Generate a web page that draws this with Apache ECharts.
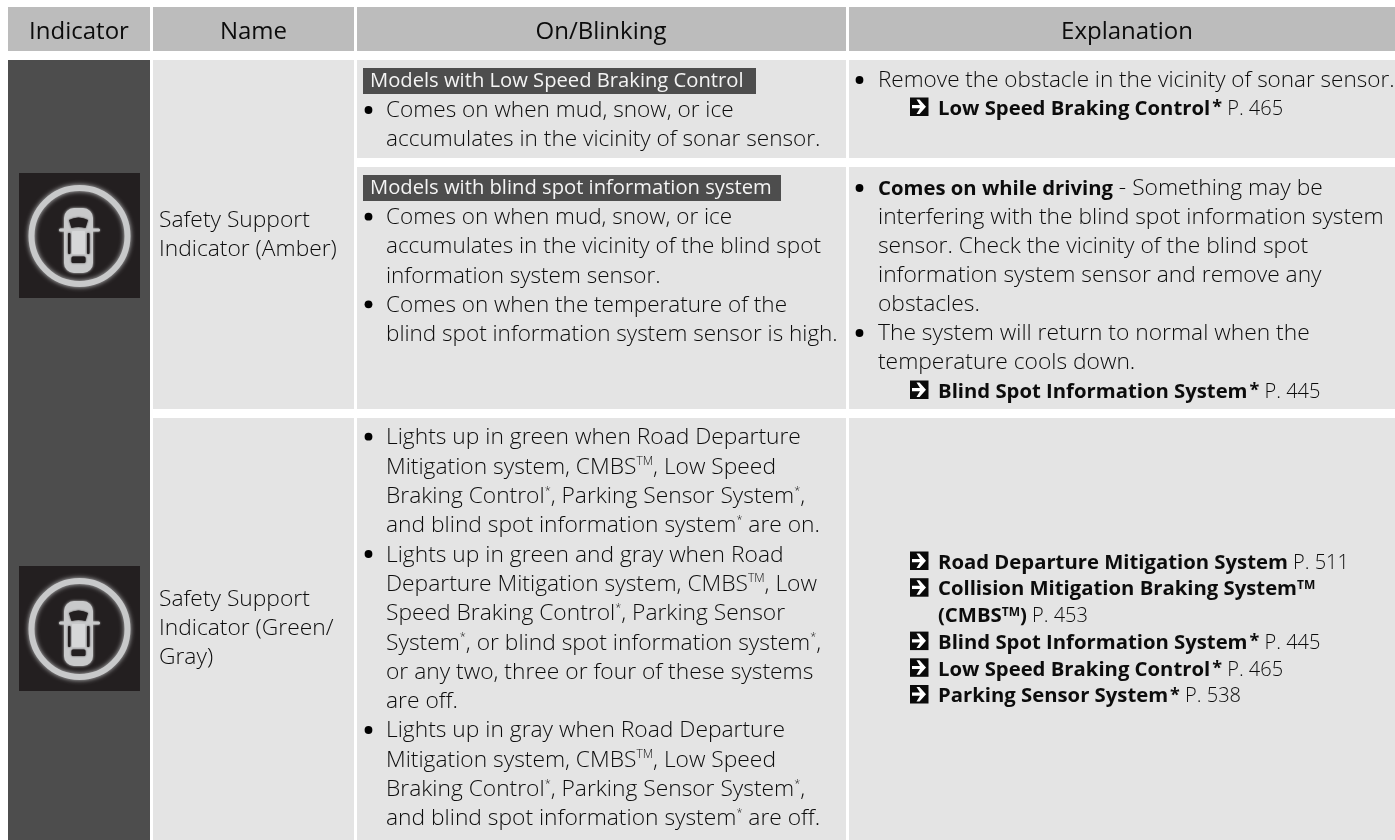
<!DOCTYPE html>
<html><head><meta charset="utf-8">
<style>html,body{margin:0;padding:0;background:#fff}#c{width:1395px;height:840px}</style>
<script src="https://cdn.jsdelivr.net/npm/echarts@6/dist/echarts.min.js"></script>
</head><body><div id="c"></div>
<script>
// ---- content ----
const columnHeaders = ['Indicator', 'Name', 'On/Blinking', 'Explanation'];
const amberName = ['Safety Support', 'Indicator (Amber)'];
const greenGrayName = ['Safety Support', 'Indicator (Green/', 'Gray)'];
const lowSpeedTag = 'Models with Low Speed Braking Control';
const blindSpotTag = 'Models with blind spot information system';
const lowSpeedOn = ['• Comes on when mud, snow, or ice', 'accumulates in the vicinity of sonar sensor.'];
const blindSpotOn = [
  '• Comes on when mud, snow, or ice',
  'accumulates in the vicinity of the blind spot',
  'information system sensor.',
  '• Comes on when the temperature of the',
  'blind spot information system sensor is high.'];
const greenGrayOn = [
  '• Lights up in green when Road Departure',
  'Mitigation system, CMBS{t|TM}, Low Speed',
  'Braking Control{s|*}, Parking Sensor System{s|*},',
  'and blind spot information system{s|*} are on.',
  '• Lights up in green and gray when Road',
  'Departure Mitigation system, CMBS{t|TM}, Low',
  'Speed Braking Control{s|*}, Parking Sensor',
  'System{s|*}, or blind spot information system{s|*},',
  'or any two, three or four of these systems',
  'are off.',
  '• Lights up in gray when Road Departure',
  'Mitigation system, CMBS{t|TM}, Low Speed',
  'Braking Control{s|*}, Parking Sensor System{s|*},',
  'and blind spot information system{s|*} are off.'];
const lowSpeedExplain = ['• Remove the obstacle in the vicinity of sonar sensor.'];
const lowSpeedRefs = ['> {b|Low Speed Braking Control}{bs|*} P. 465'];
const blindSpotExplain = [
  '• {b|Comes on while driving} - Something may be',
  'interfering with the blind spot information system',
  'sensor. Check the vicinity of the blind spot',
  'information system sensor and remove any',
  'obstacles.',
  '• The system will return to normal when the',
  'temperature cools down.'];
const blindSpotRefs = ['> {b|Blind Spot Information System}{bs|*} P. 445'];
const greenGrayRefs = [
  '> {b|Road Departure Mitigation System} P. 511',
  '> {b|Collision Mitigation Braking System}{bt|TM}',
  '{b|(CMBS}{bt|TM}{b|)} P. 453',
  '> {b|Blind Spot Information System}{bs|*} P. 445',
  '> {b|Low Speed Braking Control}{bs|*} P. 465',
  '> {b|Parking Sensor System}{bs|*} P. 538'];

// ---- layout (page pixels, mapped through hidden value axes) ----
const FONT = '"Open Sans"';
const SIZE = 22.8;
const colX = [[8,150],[153,354],[357,846],[849,1395]];
const headerCenter = [79, 253.5, 601, 1127];
const headerY = [7,51];
const C = {header:'#bcbcbc', dark:'#4d4d4d', light:'#e4e4e4', icon:'#231f20', ink:'#0c0c0c', ring:'#c8c9ca'};
const cells = [
  [...colX[0], ...headerY, C.header],[...colX[1], ...headerY, C.header],
  [...colX[2], ...headerY, C.header],[...colX[3], ...headerY, C.header],
  [...colX[0], 60, 840, C.dark],
  [...colX[1], 60, 409, C.light],[...colX[1], 418, 840, C.light],
  [...colX[2], 60, 158, C.light],[...colX[3], 60, 158, C.light],
  [...colX[2], 167, 409, C.light],[...colX[3], 167, 409, C.light],
  [...colX[2], 418, 840, C.light],[...colX[3], 418, 840, C.light],
  [363,756,68,94,C.dark],[363,781,175,201,C.dark]
];
const blocks = [
  {lines:amberName, x:159, y:220, lh:28.5},
  {lines:greenGrayName, x:159, y:599, lh:29},
  {lines:[lowSpeedTag], x:370, y:80, lh:29, color:'#f4f4f4', size:20.2, weight:400},
  {lines:[blindSpotTag], x:370, y:187, lh:29, color:'#f4f4f4', size:20.2, weight:400},
  {lines:lowSpeedOn, x:386, bx:368.5, y:110, lh:29, size:22.6},
  {lines:blindSpotOn, x:386, bx:368.5, y:216.7, lh:29.2, size:22.5},
  {lines:greenGrayOn, x:386, bx:368.5, y:436.7, lh:29.33},
  {lines:lowSpeedExplain, x:878, bx:859.5, y:80, lh:29, size:22.5},
  {lines:lowSpeedRefs, x:938, ax:910, y:108, lh:27, size:20},
  {lines:blindSpotExplain, x:878, bx:859.5, y:188, lh:29},
  {lines:blindSpotRefs, x:938, ax:910, y:391, lh:27, size:20},
  {lines:greenGrayRefs, x:938, ax:910, y:562, lh:26.7, size:20}
];
const icons = [[79.5,236],[79.5,629]];

const textData = [], bulletData = [], arrowData = [];
blocks.forEach((b, bi) => b.lines.forEach((raw, i) => {
  const y = b.y + i * b.lh;
  let t = raw;
  if (t.startsWith('• ')) { t = t.slice(2); bulletData.push([b.bx, y]); }
  if (t.startsWith('> ')) { t = t.slice(2); arrowData.push([b.ax, y]); }
  textData.push({value:[b.x, y], text:t, color:b.color || C.ink, size:b.size || SIZE, weight:b.weight || 300});
}));
columnHeaders.forEach((h,i)=>textData.push({value:[headerCenter[i], 31], text:h, color:'#0c0c0c', size:24, weight:400, center:true}));

const rich = {
  b:{fontFamily:FONT,fontSize:20.3,fontWeight:700,fill:C.ink,verticalAlign:'middle'},
  s:{fontFamily:FONT,fontSize:11,fontWeight:300,fill:C.ink,verticalAlign:'top'},
  t:{fontFamily:FONT,fontSize:12,fontWeight:300,fill:C.ink,verticalAlign:'top'},
  bs:{fontFamily:FONT,fontSize:18,fontWeight:700,fill:C.ink,verticalAlign:'top',padding:[0,0,0,2]},
  bt:{fontFamily:FONT,fontSize:12,fontWeight:700,fill:C.ink,verticalAlign:'top'}
};

const option = {
  animation:false,
  backgroundColor:'#ffffff',
  grid:{left:0,right:0,top:0,bottom:0},
  xAxis:{type:'value',min:0,max:1395,show:false},
  yAxis:{type:'value',min:0,max:840,inverse:true,show:false},
  series:[
    {type:'custom',silent:true,clip:true,z:1,data:cells.map((c,i)=>({value:c.slice(0,4),color:c[4]})),
     renderItem(p,api){
       const a=api.coord([api.value(0),api.value(2)]), b=api.coord([api.value(1),api.value(3)]);
       return {type:'rect',shape:{x:a[0],y:a[1],width:b[0]-a[0],height:b[1]-a[1]},style:{fill:option.series[0].data[p.dataIndex].color}};
     }},
    {type:'custom',silent:true,clip:false,z:2,data:icons,
     renderItem(p,api){
       const c=api.coord([api.value(0),api.value(1)]);
       const R=C.ring, D=C.icon;
       const soft={shadowBlur:3,shadowColor:R};
       const softD={shadowBlur:2,shadowColor:D};
       const rr=(x,y,w,h,r,fill,extra)=>({type:'rect',shape:{x,y,width:w,height:h,r},style:Object.assign({fill},extra||{})});
       return {type:'group',x:c[0],y:c[1],children:[
         rr(-60.5,-63,121,125,0,D),
         {type:'circle',shape:{cx:0,cy:0,r:48},style:{fill:null,stroke:R,lineWidth:6,shadowBlur:5,shadowColor:R}},
         rr(-15.5,-28,29,65,10,R,soft),
         rr(-20.5,-7.5,41,3,1.5,R,{shadowBlur:2,shadowColor:R}),
         {type:'path',shape:{pathData:'M-10.5,-16 Q-1,-21 8.5,-16 L6,-8 Q-1,-10 -8,-8 Z'},style:Object.assign({fill:D},softD)},
         rr(-11.5,-3,2.5,21,1,D,softD),rr(7.5,-3,2.5,21,1,D,softD),
         rr(-7.5,-5,13,23,1,'#d6d7d8'),
         rr(-8,20.5,14,6.5,1.5,D,softD)
       ]};
     }},
    {type:'custom',silent:true,clip:false,z:3,data:bulletData,
     renderItem(p,api){const c=api.coord([api.value(0),api.value(1)]);
       return {type:'circle',shape:{cx:c[0],cy:c[1],r:3.9},style:{fill:'#000'}};}},
    {type:'custom',silent:true,clip:false,z:3,data:arrowData,
     renderItem(p,api){const c=api.coord([api.value(0),api.value(1)]);
       return {type:'group',x:c[0],y:c[1],children:[
         {type:'rect',shape:{x:0,y:-10.5,width:18.5,height:18.5},style:{fill:'#0a0a0a'}},
         {type:'path',shape:{pathData:'M2,-2.9 L10,-2.9 L6.5,-8.5 L9.5,-8.5 L16,-1.3 L9.5,6 L6.5,6 L10,0.3 L2,0.3 Z'},style:{fill:'#fff'}}
       ]};}},
    {type:'custom',silent:true,clip:false,z:4,data:textData,
     renderItem(p,api){
       const d=textData[p.dataIndex];
       const c=api.coord([api.value(0),api.value(1)]);
       return {type:'text',x:c[0],y:c[1]+1,style:{text:d.text,fontFamily:FONT,fontSize:d.size,fontWeight:d.weight,fill:d.color,
         align:d.center?'center':'left',verticalAlign:'middle',rich}};
     }}
  ]
};
const chart = echarts.init(document.getElementById('c'),null,{renderer:'canvas'});
chart.setOption(option);
</script></body></html>
